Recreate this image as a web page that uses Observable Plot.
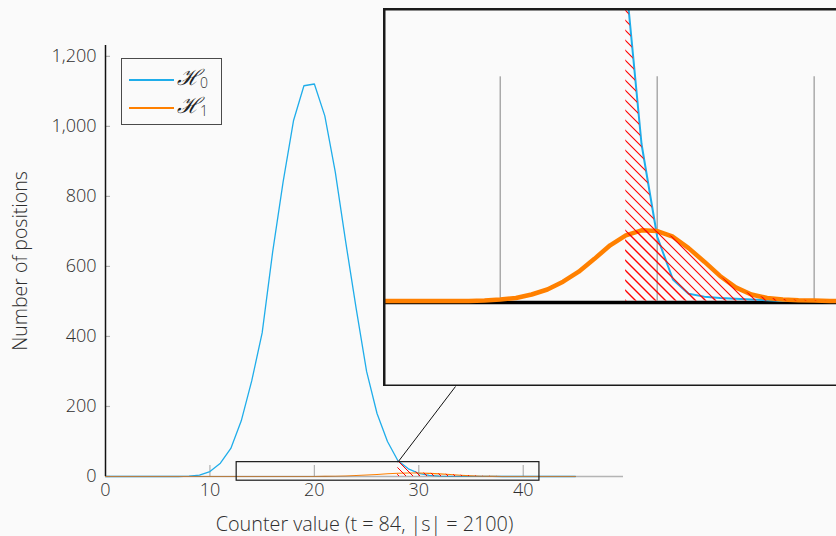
<!DOCTYPE html>
<html>
<head>
<meta charset="utf-8">
<script src="https://cdn.jsdelivr.net/npm/d3@7"></script>
<script src="https://cdn.jsdelivr.net/npm/@observablehq/plot@0.6"></script>
<style>
  html, body { margin: 0; padding: 0; background: #fafafa; overflow: hidden; }
  #chart { position: relative; width: 836px; height: 536px; overflow: hidden; font-family: "Open Sans", sans-serif; }
  #chart > * { position: absolute; }
  .legend { left: 121px; top: 58px; width: 101px; height: 67px; border: 1px solid #4a4a4a; background: #fafafa; box-sizing: border-box; }
  .legend .row { position: absolute; left: 0; height: 26px; width: 100%; }
  .legend .swatch { position: absolute; left: 7px; width: 45px; top: 12px; height: 1.5px; }
  .legend .lab { position: absolute; left: 55px; top: -6px; font-family: "DejaVu Serif", serif; font-style: italic; font-size: 22px; color: #222; }
  .legend .lab sub { font-family: "Open Sans", sans-serif; font-style: normal; font-weight: 300; font-size: 14px; vertical-align: -3px; color: #333; }
</style>
</head>
<body>
<div id="chart"></div>
<script>
// Counter values and the number of positions per value under each hypothesis
const counter = d3.range(0, 46);
const h0Positions = [0, 0, 0, 0, 0, 0, 0, 0, 1, 4,
                     14, 38, 80, 159, 273, 410, 640, 840, 1016, 1116,
                     1121, 1030, 870, 670, 480, 300, 180, 100, 45, 22,
                     9, 3, 1, 0.6, 0.4, 0.3, 0.2, 0.1, 0, 0,
                     0, 0, 0, 0, 0, 0];
const h1Positions = [0, 0, 0, 0, 0, 0, 0, 0, 0, 0,
                     0, 0, 0, 0, 0, 0, 0, 0, 0, 0.05,
                     0.2, 0.4, 0.9, 1.6, 2.7, 4.1, 5.9, 7.8, 9.2, 9.9,
                     9.8, 9.0, 7.4, 5.5, 3.5, 1.9, 0.9, 0.4, 0.2, 0.1,
                     0.05, 0, 0, 0, 0, 0];
const xTicks = [0, 10, 20, 30, 40];
const yTicks = [0, 200, 400, 600, 800, 1000, 1200];
const seriesNames = ["0", "1"];
const threshold = 28;              // decision threshold: hatched region starts here
const zoomX = [12.56, 41.55];      // region shown magnified in the inset
const zoomY = [-12, 41];

const blue = "#1fadea";
const orange = "#ff8000";
const ink = "#2e2e2e";
const font = "Open Sans, sans-serif";

const rows = counter.map((c, i) => ({c, h0: h0Positions[i], h1: h1Positions[i]}));
const tail = rows.filter(d => d.c >= threshold);

// main panel geometry
const W = 836, H = 536;
const mL = 105, mR = 213, mT = 45, mB = 60;
const xDomain = [0, 49.6], yDomain = [0, 1231];
const xs = Plot.scale({x: {domain: xDomain, range: [mL, W - mR]}});
const ys = Plot.scale({y: {domain: yDomain, range: [H - mB, mT]}});
const pxX = (W - mL - mR) / (xDomain[1] - xDomain[0]);
const pxY = (H - mT - mB) / (yDomain[1] - yDomain[0]);
const xTickLen = 11 / pxY;   // x ticks point up into the plot
const yTickLen = 5 / pxX;    // y ticks point right into the plot

// inset placement
const inset = {left: 383, top: 8, width: 455, height: 378, connectorAt: 72};

function hatch(id, step, width) {
  return () => {
    const defs = d3.create("svg:defs");
    const p = defs.append("pattern")
      .attr("id", id)
      .attr("patternUnits", "userSpaceOnUse")
      .attr("width", step).attr("height", step);
    p.append("path")
      .attr("d", `M-1,-1L${step + 1},${step + 1}M-1,${step - 1}L1,${step + 1}M${step - 1},-1L${step + 1},1`)
      .attr("stroke", "#ff0000")
      .attr("stroke-width", width)
      .attr("fill", "none");
    return defs.node();
  };
}

const main = Plot.plot({
  width: W, height: H,
  marginLeft: mL, marginRight: mR, marginTop: mT, marginBottom: mB,
  style: {background: "transparent", fontFamily: font, fontSize: "18px", fontWeight: 300, color: ink},
  x: {domain: xDomain, ticks: xTicks, tickSize: 0, tickPadding: 7, label: null},
  y: {domain: yDomain, ticks: yTicks, tickSize: 0, tickPadding: 9, tickFormat: d3.format(","), label: null},
  marks: [
    hatch("hatch-main", 7, 1.0),
    Plot.ruleX(xTicks.filter(d => d > 0), {y1: 0, y2: xTickLen, stroke: "#b0b0b0", strokeWidth: 1.2}),
    Plot.ruleY(yTicks, {x1: 0, x2: yTickLen, stroke: "#b0b0b0", strokeWidth: 1.2}),
    Plot.line(rows, {x: "c", y: "h0", stroke: blue, strokeWidth: 1.3}),
    Plot.line(rows, {x: "c", y: "h1", stroke: orange, strokeWidth: 1.1}),
    Plot.ruleY([0], {x1: xDomain[0], x2: xDomain[1], stroke: "#7a7a7a", strokeOpacity: 0.55, strokeWidth: 1.3}),
    Plot.areaY(tail, {x: "c", y: "h0", fill: "url(#hatch-main)"}),
    Plot.areaY(tail, {x: "c", y: "h1", fill: "url(#hatch-main)"}),
    Plot.rect([{x1: zoomX[0], x2: zoomX[1], y1: zoomY[0], y2: zoomY[1]}],
      {x1: "x1", x2: "x2", y1: "y1", y2: "y2", fill: "none", stroke: "#1a1a1a", strokeWidth: 1.2}),
    Plot.ruleX([0], {y1: 0, y2: yDomain[1], stroke: "#111", strokeWidth: 1.5}),
    Plot.link([{
      x1: threshold, y1: zoomY[1],
      x2: xs.invert(inset.left + inset.connectorAt), y2: ys.invert(inset.top + inset.height)
    }], {x1: "x1", y1: "y1", x2: "x2", y2: "y2", stroke: "#111", strokeWidth: 1}),
    Plot.text(["Counter value (t = 84, |s| = 2100)"],
      {text: d => d, frameAnchor: "bottom", textAnchor: "middle", lineAnchor: "middle",
       dy: 48, fontSize: 19.8, fill: ink}),
    Plot.text(["Number of positions"],
      {text: d => d, frameAnchor: "left", textAnchor: "middle", lineAnchor: "middle",
       rotate: -90, dx: -85, fontSize: 19.5, fill: ink})
  ]
});

const zoomed = Plot.plot({
  width: inset.width, height: inset.height,
  margin: 0, marginLeft: 0, marginRight: 0, marginTop: 0, marginBottom: 0,
  style: {background: "#fafafa", overflow: "hidden"},
  x: {domain: zoomX, axis: null},
  y: {domain: zoomY, axis: null},
  marks: [
    hatch("hatch-inset", 10, 1.1),
    Plot.ruleX(xTicks.filter(d => d > zoomX[0] && d < zoomX[1]),
      {y1: 0, y2: xTickLen, stroke: "#aaaaaa", strokeWidth: 1.5}),
    Plot.ruleY([0], {stroke: "#000", strokeWidth: 3.5, dy: 1.5, clip: true}),
    Plot.line(rows, {x: "c", y: "h0", stroke: blue, strokeWidth: 2, clip: true}),
    Plot.line(rows, {x: "c", y: "h1", stroke: orange, strokeWidth: 4.5, clip: true}),
    Plot.areaY(tail, {x: "c", y: "h0", fill: "url(#hatch-inset)", clip: true}),
    Plot.areaY(tail, {x: "c", y: "h1", fill: "url(#hatch-inset)", clip: true}),
    Plot.frame({stroke: "#1a1a1a", strokeWidth: 4})
  ]
});

const chart = document.getElementById("chart");
main.style.left = "0px"; main.style.top = "0px";
chart.appendChild(main);
zoomed.style.left = inset.left + "px"; zoomed.style.top = inset.top + "px";
zoomed.style.maxWidth = "none";
chart.appendChild(zoomed);

// legend
const legend = document.createElement("div");
legend.className = "legend";
[blue, orange].forEach((color, i) => {
  const row = document.createElement("div");
  row.className = "row";
  row.style.top = (8 + i * 28) + "px";
  const sw = document.createElement("div");
  sw.className = "swatch";
  sw.style.background = color;
  const lab = document.createElement("div");
  lab.className = "lab";
  lab.innerHTML = "ℋ<sub>" + seriesNames[i] + "</sub>";
  row.appendChild(sw); row.appendChild(lab);
  legend.appendChild(row);
});
chart.appendChild(legend);
</script>
</body>
</html>
